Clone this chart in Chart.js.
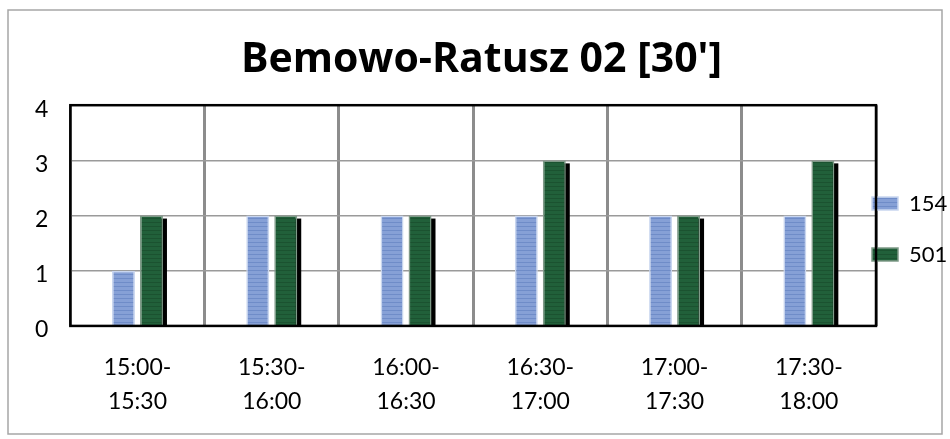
<!DOCTYPE html>
<html>
<head>
<meta charset="utf-8">
<script src="https://cdn.jsdelivr.net/npm/chart.js@4"></script>
<style>
  html, body { margin: 0; padding: 0; background: #fff; }
  #wrap { width: 950px; height: 439px; }
</style>
</head>
<body>
<div id="wrap"><canvas id="chart" width="950" height="439"></canvas></div>
<script>
const categories = [['15:00-', '15:30'], ['15:30-', '16:00'], ['16:00-', '16:30'], ['16:30-', '17:00'], ['17:00-', '17:30'], ['17:30-', '18:00']];
const series154 = [1, 2, 2, 2, 2, 2];
const series501 = [2, 2, 2, 3, 2, 3];
const yTicks = [0, 1, 2, 3, 4];

const FONT = "'Lato', 'Open Sans', sans-serif";

// striped fill for the bars
function stripes(a, b) {
  const c = document.createElement('canvas');
  c.width = 4; c.height = 4;
  const g = c.getContext('2d');
  g.fillStyle = a; g.fillRect(0, 0, 4, 4);
  g.fillStyle = b; g.fillRect(0, 2, 4, 1);
  return g.createPattern(c, 'repeat');
}
const ctx = document.getElementById('chart').getContext('2d');
const blueFill = stripes('#86a0d6', '#6f8cc8');
const greenFill = stripes('#21603a', '#1b5230');

// frame around the whole chart and plot area
const framePlugin = {
  id: 'frame',
  beforeDraw(chart) {
    const c = chart.ctx;
    c.save();
    c.strokeStyle = '#a6a6a6';
    c.lineWidth = 1.5;
    c.strokeRect(8, 10, 934, 424);
    c.restore();
  },
  afterDatasetsDraw(chart) {
    const a = chart.chartArea;
    const c = chart.ctx;
    c.save();
    c.strokeStyle = '#000';
    c.lineWidth = 2.5;
    c.strokeRect(a.left, a.top, a.right - a.left, a.bottom - a.top);
    c.restore();
  }
};

// black drop shadow behind the green bars
const shadowPlugin = {
  id: 'shadow',
  beforeDatasetsDraw(chart) {
    const c = chart.ctx;
    c.save();
    c.fillStyle = '#000';
    chart.getDatasetMeta(1).data.forEach(el => {
      const p = el.getProps(['x', 'y', 'base', 'width'], true);
      c.fillRect(p.x - p.width / 2 + 4, p.y + 3, p.width, p.base - p.y - 3);
    });
    c.restore();
  }
};

// let the legend sit over the right edge of the plot like the original
const legendShift = {
  id: 'legendShift',
  beforeLayout(chart) {
    const lg = chart.legend;
    if (lg && !lg._wrapped) {
      const fit = lg.fit.bind(lg);
      lg.fit = function () { fit(); this._natW = this.width; this.width = 74; };
      lg._wrapped = true;
    }
  },
  afterLayout(chart) {
    const lg = chart.legend;
    lg.left = 843;
    lg.width = lg._natW;
    lg.right = lg.left + lg._natW;
    lg.top += 7; lg.bottom += 7;
  }
};

new Chart(ctx, {
  type: 'bar',
  data: {
    labels: categories,
    datasets: [
      {
        label: '154',
        data: series154,
        backgroundColor: blueFill,
        borderColor: '#c9d6ef',
        borderWidth: 1.5,
        barPercentage: 0.82,
        categoryPercentage: 0.417
      },
      {
        label: '501',
        data: series501,
        backgroundColor: greenFill,
        borderColor: '#7f9a88',
        borderWidth: 1.5,
        barPercentage: 0.82,
        categoryPercentage: 0.417
      }
    ]
  },
  options: {
    responsive: false,
    animation: false,
    layout: { padding: { left: 13, right: 0, top: 0, bottom: -5 } },
    scales: {
      x: {
        grid: { display: true, color: '#8c8c8c', lineWidth: 3, drawTicks: false },
        border: { display: false },
        ticks: { color: '#000', font: { family: FONT, size: 23, lineHeight: 1.48 }, padding: 25, maxRotation: 0 }
      },
      y: {
        min: 0,
        max: 4,
        afterBuildTicks(axis) { axis.ticks = yTicks.map(v => ({ value: v })); },
        grid: { color: '#9a9a9a', lineWidth: 1.5, drawTicks: false },
        border: { display: false },
        ticks: { color: '#000', font: { family: FONT, size: 23 }, padding: 22, labelOffset: 4 }
      }
    },
    plugins: {
      title: {
        display: true,
        text: "Bemowo-Ratusz 02 [30']",
        color: '#000',
        font: { family: "'Open Sans', 'Lato', sans-serif", size: 41, weight: 'bold' },
        padding: { top: 36, bottom: 20 }
      },
      legend: {
        position: 'right',
        labels: {
          color: '#000',
          font: { family: FONT, size: 22 },
          boxWidth: 26,
          boxHeight: 13,
          padding: 29
        }
      },
      tooltip: { enabled: false }
    }
  },
  plugins: [framePlugin, shadowPlugin, legendShift]
});
</script>
</body>
</html>
